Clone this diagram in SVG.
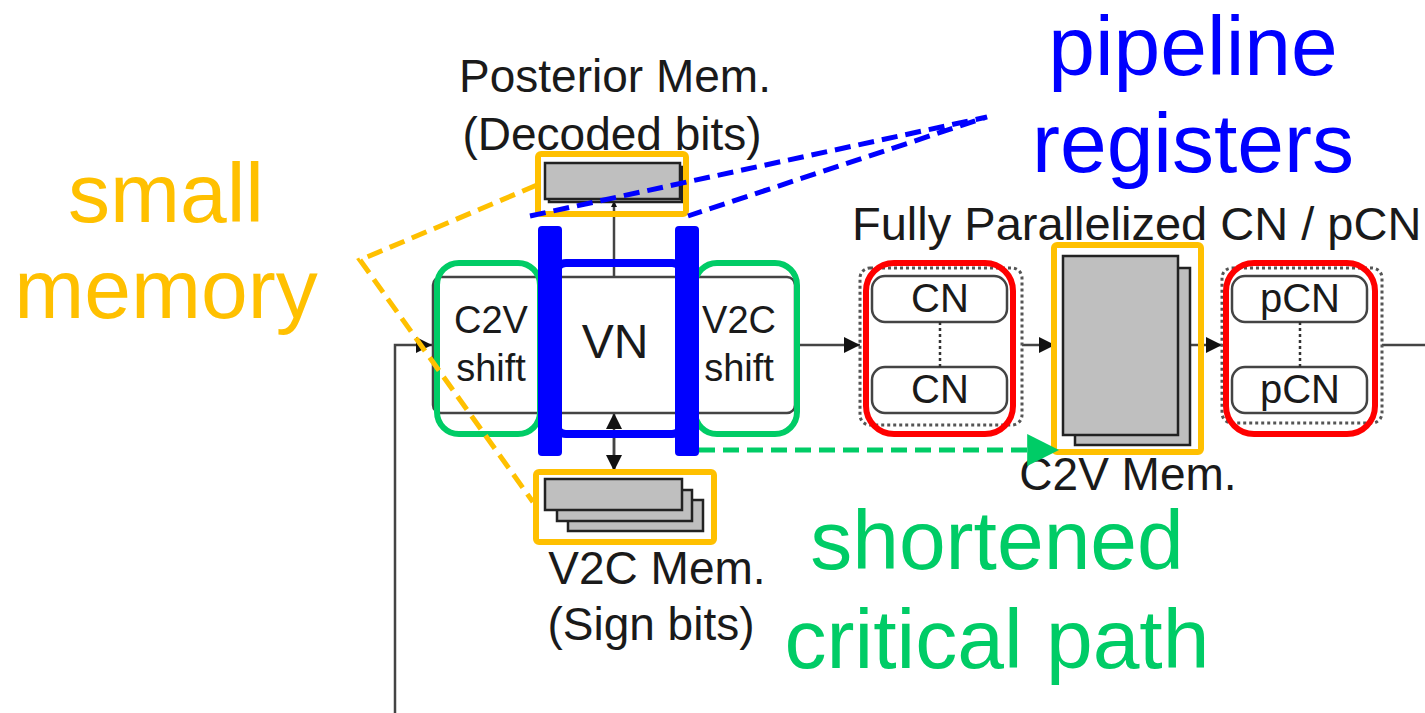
<svg xmlns="http://www.w3.org/2000/svg" width="1425" height="713" viewBox="0 0 1425 713">
<defs>
<style>
.lbl{font-family:"Liberation Sans",Arial,sans-serif;fill:#1a1a1a;text-anchor:middle}
.big{font-family:"Liberation Sans",Arial,sans-serif;font-size:84px;text-anchor:middle}
.wire{stroke:#444;stroke-width:2.5;fill:none}
.mem{fill:#bfbfbf;stroke:#222;stroke-width:2.5}
.unit{fill:#fff;stroke:#444;stroke-width:2.5}
.dots{fill:none;stroke:#555;stroke-width:3;stroke-dasharray:3 3}
.red{fill:none;stroke:#ff0000;stroke-width:6}
.yel{fill:none;stroke:#ffc000;stroke-width:6}
.grn{fill:none;stroke:#00cc66;stroke-width:6}
</style>
<marker id="ah" viewBox="0 0 10 10" refX="10" refY="5" markerWidth="6" markerHeight="6" orient="auto" markerUnits="userSpaceOnUse">
<path d="M0,0 L10,5 L0,10 z" fill="#111"/>
</marker>
<marker id="ahb" viewBox="0 0 10 10" refX="10" refY="5" markerWidth="16" markerHeight="16" orient="auto" markerUnits="userSpaceOnUse">
<path d="M0,0 L10,5 L0,10 z" fill="#111"/>
</marker>
<marker id="ahg" viewBox="0 0 10 10" refX="9" refY="5" markerWidth="32" markerHeight="32" orient="auto" markerUnits="userSpaceOnUse">
<path d="M0,0 L10,5 L0,10 z" fill="#00cc66"/>
</marker>
</defs>
<rect width="1425" height="713" fill="#fff"/>

<g id="connectors">
<polyline class="wire" points="395,713 395,345 432,345" marker-end="url(#ahb)"/>
<line class="wire" x1="800" y1="345" x2="860" y2="345" marker-end="url(#ahb)"/>
<line class="wire" x1="1022" y1="345" x2="1055" y2="345" marker-end="url(#ahb)"/>
<line class="wire" x1="1190" y1="345" x2="1222" y2="345" marker-end="url(#ahb)"/>
<line class="wire" x1="1382" y1="345" x2="1425" y2="345"/>
<line class="wire" x1="614" y1="277" x2="614" y2="201" marker-end="url(#ah)"/>
<line class="wire" x1="614" y1="470" x2="614" y2="413" marker-end="url(#ahb)"/>
<line class="wire" x1="614" y1="430" x2="614" y2="471" marker-end="url(#ahb)"/>
</g>

<g id="posterior-mem">
<rect class="mem" x="549" y="167" width="133" height="35" fill="#bfbfbf"/>
<rect class="mem" x="545" y="163" width="135" height="36"/>
<rect class="yel" x="538" y="154" width="148" height="60" rx="3"/>
<text class="lbl" x="615" y="92" font-size="46">Posterior Mem.</text>
<text class="lbl" x="612" y="150" font-size="46">(Decoded bits)</text>
</g>

<g id="vn-unit">
<rect class="unit" x="433" y="277" width="362" height="136" rx="8"/>
<text class="lbl" x="491" y="333" font-size="38">C2V</text>
<text class="lbl" x="491" y="381" font-size="38">shift</text>
<text class="lbl" x="615" y="358" font-size="48">VN</text>
<text class="lbl" x="739" y="333" font-size="38">V2C</text>
<text class="lbl" x="739" y="381" font-size="38">shift</text>
<rect class="grn" x="437" y="263" width="103" height="171" rx="22"/>
<rect class="grn" x="695" y="263" width="102" height="171" rx="22"/>
<rect x="556" y="263" width="126" height="171" rx="10" fill="none" stroke="#0000ff" stroke-width="8"/>
<rect x="538" y="226" width="24" height="230" rx="4" fill="#0000ff"/>
<rect x="675" y="226" width="24" height="230" rx="4" fill="#0000ff"/>
</g>

<g id="v2c-mem">
<rect class="mem" x="568" y="500" width="135" height="31"/>
<rect class="mem" x="557" y="490" width="135" height="31"/>
<rect class="mem" x="545" y="479" width="137" height="31"/>
<rect class="yel" x="536" y="472" width="178" height="70" rx="3"/>
<text class="lbl" x="657" y="584" font-size="46">V2C Mem.</text>
<text class="lbl" x="651" y="640" font-size="46">(Sign bits)</text>
</g>

<g id="cn-block">
<rect class="dots" x="860" y="268" width="162" height="157" rx="10"/>
<rect class="unit" x="872" y="276" width="135" height="46" rx="13"/>
<rect class="unit" x="872" y="367" width="135" height="46" rx="13"/>
<line x1="940" y1="322" x2="940" y2="367" stroke="#333" stroke-width="2.5" stroke-dasharray="3 3"/>
<text class="lbl" x="940" y="312" font-size="40">CN</text>
<text class="lbl" x="940" y="403" font-size="40">CN</text>
<rect class="red" x="866" y="263" width="147" height="171" rx="28"/>
</g>

<g id="c2v-mem">
<rect class="mem" x="1075" y="268" width="115" height="177" stroke="#444"/>
<rect class="mem" x="1063" y="256" width="115" height="179"/>
<rect class="yel" x="1054" y="245" width="147" height="207" rx="3"/>
<text class="lbl" x="1128" y="490" font-size="46">C2V Mem.</text>
</g>

<g id="pcn-block">
<rect class="dots" x="1222" y="268" width="160" height="155" rx="10"/>
<rect class="unit" x="1232" y="276" width="135" height="46" rx="13"/>
<rect class="unit" x="1232" y="367" width="135" height="46" rx="13"/>
<line x1="1300" y1="322" x2="1300" y2="367" stroke="#333" stroke-width="2.5" stroke-dasharray="3 3"/>
<text class="lbl" x="1300" y="312" font-size="40">pCN</text>
<text class="lbl" x="1300" y="403" font-size="40">pCN</text>
<rect class="red" x="1226" y="263" width="149" height="171" rx="28"/>
</g>

<g id="title-cn">
<text class="lbl" x="852" y="240" font-size="47" style="text-anchor:start">Fully Parallelized CN / pCN</text>
</g>

<g id="annotations">
<polyline points="537,185 360,260 533,502" fill="none" stroke="#ffc000" stroke-width="5" stroke-dasharray="16 8"/>
<polyline points="530,216 987,117 688,216" fill="none" stroke="#0000ff" stroke-width="5" stroke-dasharray="16 8"/>
<line x1="699" y1="450" x2="1056" y2="450" stroke="#00cc66" stroke-width="5" stroke-dasharray="16 8" marker-end="url(#ahg)"/>
<text class="big" x="166" y="222" fill="#ffc000">small</text>
<text class="big" x="166" y="318" fill="#ffc000">memory</text>
<text class="big" x="1193" y="75" fill="#0000ff">pipeline</text>
<text class="big" x="1193" y="172" fill="#0000ff">registers</text>
<text class="big" x="997" y="569" fill="#00cc66">shortened</text>
<text class="big" x="997" y="668" fill="#00cc66">critical path</text>
</g>
</svg>
